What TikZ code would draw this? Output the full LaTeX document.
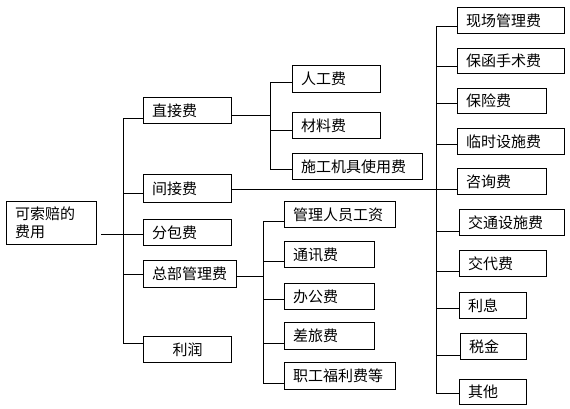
\documentclass[tikz,border=0pt]{standalone}
\usepackage{fontspec}
\newfontfamily\cjk{Noto Sans CJK SC}
\newcommand\bx[7][]{%
  \pgfmathsetmacro\bxw{#5-#3}\pgfmathsetmacro\bxh{#6-#4}\pgfmathsetmacro\bxt{#5-#3-16}%
  \node[box,#1,minimum width=\bxw pt,minimum height=\bxh pt,text width=\bxt pt] (#2) at (#3,#4) {#7};}
\newcommand\br[3]{\coordinate (#1) at #2; \draw[ln] (#1) -- (#1 -| #3.west);}
\begin{document}
\begin{tikzpicture}[x=1pt,y=-1pt,
  box/.style={draw, line width=1pt, inner xsep=8.5pt, inner ysep=0pt, anchor=north west,
    align=left, font=\cjk\fontsize{15}{17.5}\selectfont},
  ln/.style={line width=1pt, line cap=rect}]
\useasboundingbox (0,0) rectangle (570,409);
% root
\bx{root}{6}{201}{95}{244}{可索赔的\\费用}
% level 1
\bx{d1}{143}{97}{230}{123}{直接费}
\bx{d2}{143}{174}{230}{202}{间接费}
\bx{d3}{143}{219}{230}{245}{分包费}
\bx{d4}{143}{260}{235}{287}{总部管理费}
\bx[align=center]{d5}{143}{336}{230}{362}{利润}
% direct sub
\bx{s1}{292}{65}{379}{92}{人工费}
\bx{s2}{292}{112}{379}{138}{材料费}
\bx{s3}{292}{153}{421}{179}{施工机具使用费}
% indirect sub
\bx{r1}{457}{7}{563}{33}{现场管理费}
\bx{r2}{457}{48}{563}{73}{保函手术费}
\bx{r3}{457}{88}{545}{113}{保险费}
\bx{r4}{457}{128}{563}{154}{临时设施费}
\bx{r5}{457}{168}{545}{194}{咨询费}
\bx{r6}{459}{209}{563}{235}{交通设施费}
\bx{r7}{459}{250}{545}{276}{交代费}
\bx{r8}{459}{292}{525}{318}{利息}
\bx{r9}{460}{333}{525}{359}{税金}
\bx{r10}{459}{379}{525}{404}{其他}
% head office sub
\bx{m1}{284}{201}{394}{227}{管理人员工资}
\bx{m2}{284}{241}{373}{267}{通讯费}
\bx{m3}{284}{283}{373}{309}{办公费}
\bx{m4}{284}{322}{373}{349}{差旅费}
\bx{m5}{284}{362}{394}{389}{职工福利费等}
% root connector and trunk
\coordinate (rs) at (101,234);
\coordinate (rj) at (123,234);
\draw[ln] (rs) -- (rj);
\br{b1}{(123,119)}{d1}
\br{b2}{(123,193)}{d2}
\br{b3}{(123,234)}{d3}
\br{b4}{(123,274)}{d4}
\br{b5}{(123,343)}{d5}
\draw[ln] (b1) -- (b5);
% direct cost
\coordinate (j1) at (270,116);
\draw[ln] (j1 -| d1.east) -- (j1);
\br{c1}{(270,83)}{s1}
\br{c2}{(270,131)}{s2}
\br{c3}{(270,169)}{s3}
\draw[ln] (c1) -- (c3);
% indirect cost
\coordinate (j2) at (436,189);
\draw[ln] (j2 -| d2.east) -- (j2);
\br{e1}{(436,27)}{r1}
\br{e2}{(436,67)}{r2}
\br{e3}{(436,104)}{r3}
\br{e4}{(436,145)}{r4}
\br{e5}{(436,189)}{r5}
\br{e6}{(436,231)}{r6}
\br{e7}{(436,271)}{r7}
\br{e8}{(436,308)}{r8}
\br{e9}{(436,355)}{r9}
\br{e10}{(436,393)}{r10}
\draw[ln] (e1) -- (e10);
% head office
\coordinate (j3) at (263,276);
\draw[ln] (j3 -| d4.east) -- (j3);
\br{f1}{(263,221)}{m1}
\br{f2}{(263,261)}{m2}
\br{f3}{(263,299)}{m3}
\br{f4}{(263,343)}{m4}
\br{f5}{(263,383)}{m5}
\draw[ln] (f1) -- (f5);
\end{tikzpicture}
\end{document}
